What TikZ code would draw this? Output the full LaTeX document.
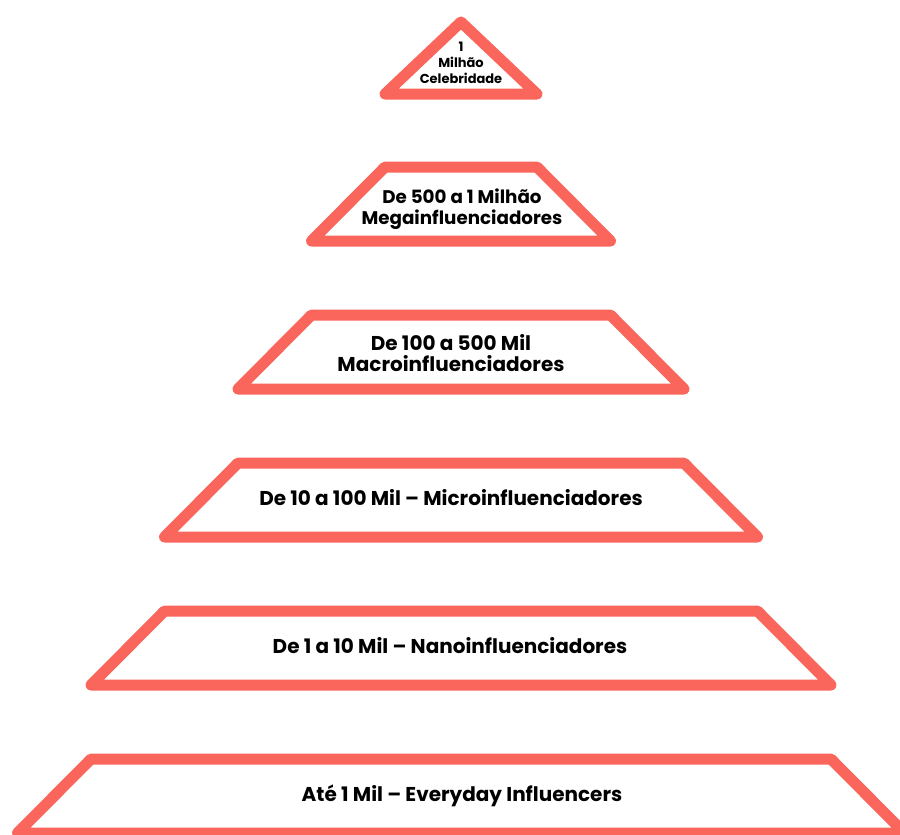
\documentclass[tikz,border=0pt]{standalone}
\usepackage{fontspec}
\setmainfont{Poppins}
\definecolor{coral}{RGB}{250,102,92}
\begin{document}
\begin{tikzpicture}[x=1pt,y=-1pt,
  tier/.style={draw=coral,line width=11pt,line join=round,line cap=round,fill=white},
  lbl/.style={font=\bfseries\fontsize{20}{21}\selectfont,align=center,inner sep=0pt},
  small/.style={font=\bfseries\fontsize{13}{16}\selectfont,align=center,inner sep=0pt}]
\useasboundingbox (0,0) rectangle (900,835);
\draw[tier] (461,22) -- (537,94) -- (385,94) -- cycle;
\foreach \i in {0,...,4}{
  \pgfmathsetmacro{\ty}{167+148*\i}
  \pgfmathsetmacro{\by}{\ty+74}
  \pgfmathsetmacro{\tl}{385-73.5*\i}
  \pgfmathsetmacro{\tr}{537+73.5*\i}
  \pgfmathsetmacro{\bl}{\tl-73.5}
  \pgfmathsetmacro{\br}{\tr+73.5}
  \draw[tier] (\tl,\ty) -- (\tr,\ty) -- (\br,\by) -- (\bl,\by) -- cycle;
}
\node[small] (t1) at (461,63) {1\\Milhão\\Celebridade};
\node[lbl,font=\bfseries\fontsize{18.3}{21}\selectfont] (t2) at (462,209) {De 500 a 1 Milhão\\Megainfluenciadores};
\node[lbl] (t3) at (451,353) {De 100 a 500 Mil\\Macroinfluenciadores};
\node[lbl] (t4) at (451,498) {De 10 a 100 Mil – Microinfluenciadores};
\node[lbl] (t5) at (450,646) {De 1 a 10 Mil – Nanoinfluenciadores};
\node[lbl] (t6) at (462,796) {Até 1 Mil – Everyday Influencers};
\end{tikzpicture}
\end{document}
